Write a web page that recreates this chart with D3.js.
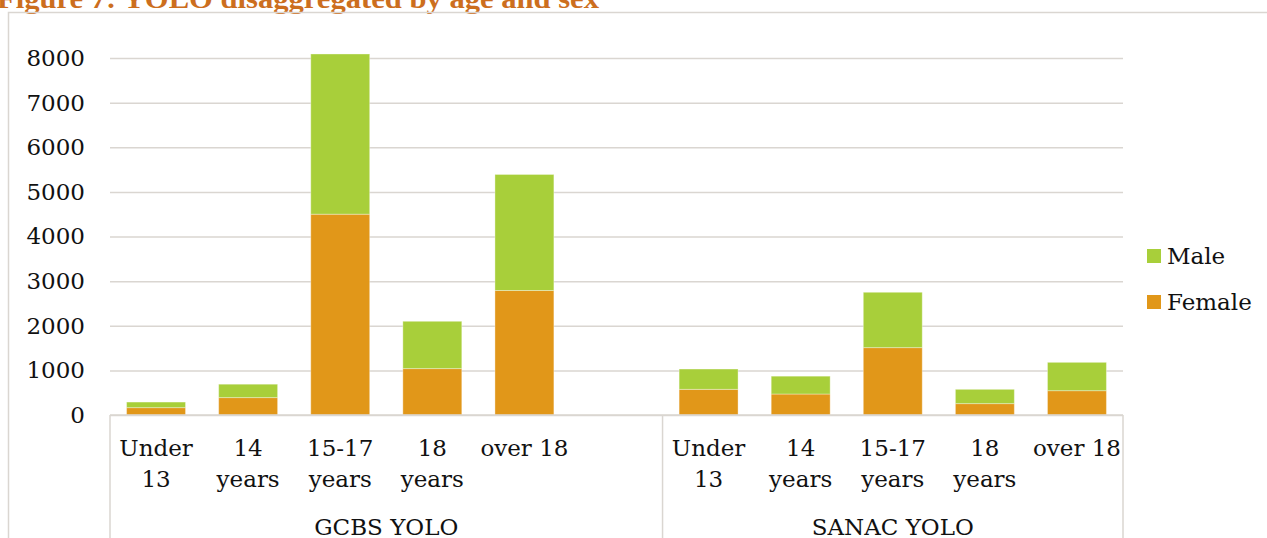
<!DOCTYPE html>
<html>
<head>
<meta charset="utf-8">
<script src="https://cdn.jsdelivr.net/npm/d3@7"></script>
<style>
  html, body { margin: 0; padding: 0; background: #fff; overflow: hidden; }
  svg { display: block; font-family: "DejaVu Serif", "Liberation Serif", serif; }
</style>
</head>
<body>
<svg id="chart" width="1267" height="538"></svg>
<script>
// Programmes and their age bands (a blank slot separates the two programmes)
const groups = ["GCBS YOLO", "SANAC YOLO"];
const groupSlots = [6, 5];
const ageLabels = [
  ["Under", "13"], ["14", "years"], ["15-17", "years"], ["18", "years"], ["over 18"], [],
  ["Under", "13"], ["14", "years"], ["15-17", "years"], ["18", "years"], ["over 18"]
];
// Participants by sex (null = empty slot)
const female = [165, 390, 4500, 1040, 2790, null, 575, 470, 1510, 255, 545];
const male   = [125, 300, 3590, 1060, 2600, null, 455, 400, 1240, 320, 635];
const yTicks = [0, 1000, 2000, 3000, 4000, 5000, 6000, 7000, 8000];
const seriesNames = ["Male", "Female"];
const seriesColors = ["#A8CF3A", "#E19719"];

const titleText = "Figure 7: YOLO disaggregated by age and sex";

const svg = d3.select("#chart");
const lineColor = "#DAD6D1";

const plot = { left: 110, right: 1123, top: 58, bottom: 415 };

const slots = d3.range(ageLabels.length);
const x = d3.scaleBand().domain(slots).range([plot.left, plot.right])
  .paddingInner(0.36).paddingOuter(0.18);
const y = d3.scaleLinear().domain([0, 8000]).range([plot.bottom, plot.top]);
const color = d3.scaleOrdinal().domain(seriesNames).range(seriesColors);

// Title (partly above the visible frame)
const title = svg.append("text")
  .attr("y", 8)
  .attr("font-family", "Liberation Serif, serif")
  .attr("font-weight", "bold").attr("font-size", 28)
  .attr("fill", "#CC6E1E");
title.append("tspan").attr("x", -3)
  .attr("textLength", 602).attr("lengthAdjust", "spacingAndGlyphs")
  .text(titleText);
title.append("tspan").attr("font-size", 15).attr("dy", -9).attr("dx", 2).text("2");

// Frame of the chart area
svg.append("path")
  .attr("d", "M8.5,540 V12.5 H1270")
  .attr("fill", "none").attr("stroke", lineColor).attr("stroke-width", 1.5);

// Gridlines and value labels
const yAxis = d3.axisLeft(y).tickValues(yTicks).tickSize(-(plot.right - plot.left))
  .tickPadding(25).tickFormat(d3.format("d"));
const gy = svg.append("g").attr("transform", `translate(${plot.left},0)`).call(yAxis);
gy.select(".domain").remove();
gy.selectAll(".tick line").attr("stroke", lineColor).attr("stroke-width", 1.5);
gy.selectAll(".tick text").attr("font-size", 23).attr("fill", "#111")
  .attr("font-family", "DejaVu Serif, serif");

// Stacked bars
const rows = slots.map(i => ({ i, Female: female[i], Male: male[i] }))
  .filter(d => d.Female != null);
const stack = d3.stack().keys(["Female", "Male"]);
const layers = stack(rows);
svg.append("g").selectAll("g").data(layers).join("g")
  .attr("fill", d => color(d.key))
  .selectAll("rect").data(d => d).join("rect")
  .attr("x", d => x(d.data.i))
  .attr("width", x.bandwidth())
  .attr("y", d => y(d[1]))
  .attr("height", d => y(d[0]) - y(d[1]))
  .attr("stroke", "rgba(255,255,255,0.35)").attr("stroke-width", 1);

// Category axis: baseline, separators, labels
const axisG = svg.append("g");
axisG.append("line")
  .attr("x1", plot.left).attr("x2", plot.right)
  .attr("y1", plot.bottom).attr("y2", plot.bottom)
  .attr("stroke", lineColor).attr("stroke-width", 1.5);

const step = x.step();
let startIdx = 0;
const boundaries = [plot.left];
groups.forEach((g, gi) => {
  const n = groupSlots[gi];
  const x0 = plot.left + startIdx * step;
  const x1 = plot.left + (startIdx + n) * step;
  boundaries.push(x1);
  axisG.append("text")
    .attr("x", (x0 + x1) / 2).attr("y", 535)
    .attr("text-anchor", "middle").attr("font-size", 23).attr("fill", "#111")
    .text(g);
  startIdx += n;
});
boundaries.forEach(bx => {
  axisG.append("line")
    .attr("x1", bx).attr("x2", bx).attr("y1", plot.bottom).attr("y2", 540)
    .attr("stroke", lineColor).attr("stroke-width", 1.5);
});

slots.forEach(i => {
  const t = axisG.append("text")
    .attr("text-anchor", "middle").attr("font-size", 23).attr("fill", "#111");
  ageLabels[i].forEach((line, li) => {
    t.append("tspan")
      .attr("x", x(i) + x.bandwidth() / 2)
      .attr("y", 456 + li * 31)
      .text(line);
  });
});

// Legend
const legend = svg.append("g").attr("transform", "translate(1147,249)");
seriesNames.forEach((name, i) => {
  const row = legend.append("g").attr("transform", `translate(0,${i * 46})`);
  row.append("rect").attr("width", 14).attr("height", 14).attr("fill", color(name));
  row.append("text").attr("x", 20).attr("y", 7).attr("dy", "0.36em")
    .attr("font-size", 23).attr("fill", "#111").text(name);
});
</script>
</body>
</html>
